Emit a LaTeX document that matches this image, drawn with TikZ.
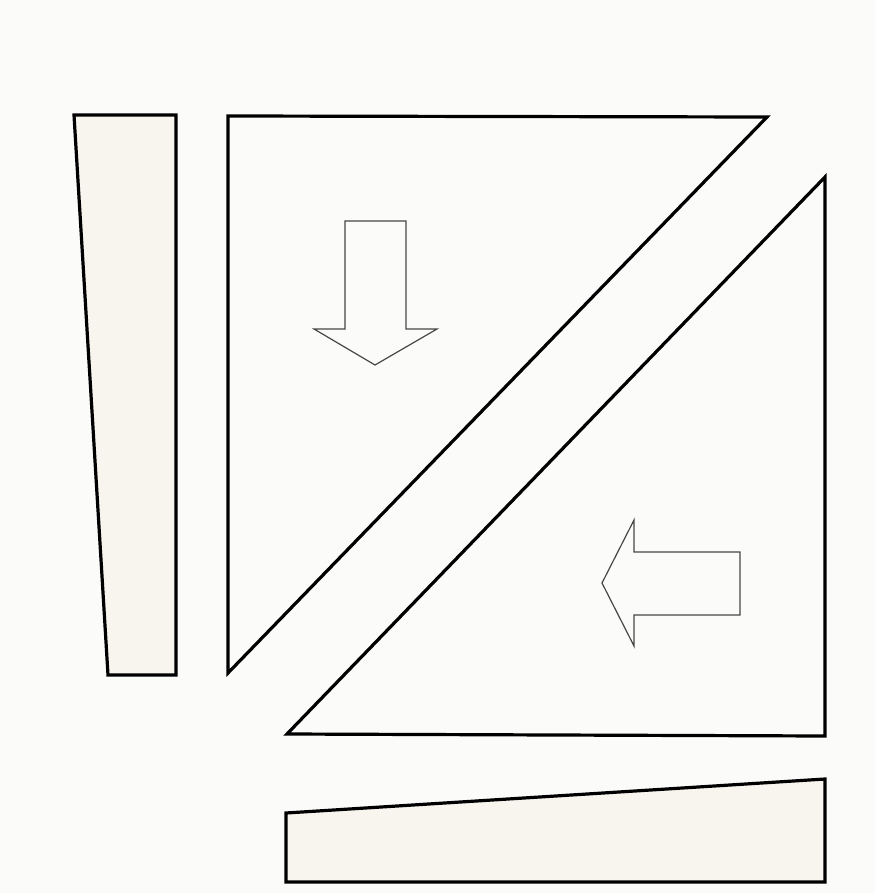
\documentclass[tikz,border=0pt]{standalone}
\usepackage{tikz}
\definecolor{paper}{RGB}{251,251,250}
\definecolor{cream}{RGB}{248,244,238}
\definecolor{arrowline}{RGB}{70,70,70}
\tikzset{
  piece/.style={draw=black, line width=3.2pt, line join=miter},
  wedge/.style={piece, fill=cream},
  hollowarrow/.style={draw=arrowline, line width=1.2pt, fill=paper, line join=miter}
}
\begin{document}
\begin{tikzpicture}[x=1pt,y=-1pt]
\fill[paper] (0,0) rectangle (875,893);
\useasboundingbox (0,0) rectangle (875,893);
% left wedge
\draw[wedge] (74,115) -- (176,115) -- (176,675) -- (108,675) -- cycle;
% upper triangle
\draw[piece] (228,116) -- (767,117) -- (228,673) -- cycle;
% lower triangle
\draw[piece] (825,177) -- (825,736) -- (287,734) -- cycle;
% bottom wedge
\draw[wedge] (286,813) -- (825,779) -- (825,882) -- (286,882) -- cycle;
% down arrow
\draw[hollowarrow] (345,221) -- (406,221) -- (406,329) -- (437,329) -- (375,365) -- (314,329) -- (345,329) -- cycle;
% left arrow
\draw[hollowarrow] (740,552) -- (740,615) -- (634,615) -- (634,646) -- (602,583) -- (634,520) -- (634,552) -- cycle;
\end{tikzpicture}
\end{document}
